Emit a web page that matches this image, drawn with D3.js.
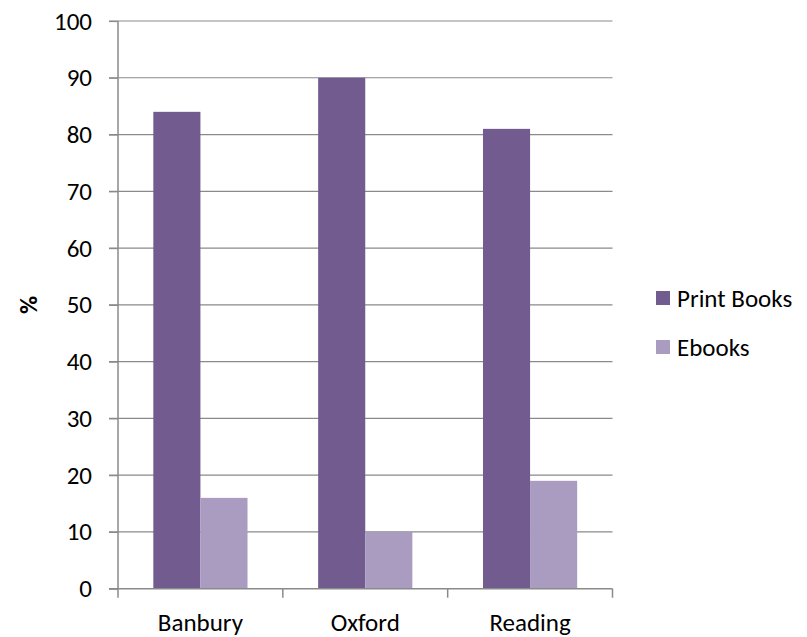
<!DOCTYPE html>
<html><head><meta charset="utf-8">
<script src="https://cdn.jsdelivr.net/npm/d3@7"></script>
<style>body{margin:0;background:#fff}svg{display:block}text{font-family:Carlito,Lato,sans-serif;fill:#000}</style>
</head><body><svg id="c" width="807" height="637"></svg>
<script>
const categories = ["Banbury","Oxford","Reading"];
const seriesNames = ["Print Books","Ebooks"];
const printBooks = [84,90,81];
const ebooks = [16,10,19];
const yTicks = [0,10,20,30,40,50,60,70,80,90,100];
const colors = ["#715B8F","#AA9BC1"];

const svg = d3.select("#c");
const L=118, R=612.5, T=21, B=588.7;
const FS=25;
const x = d3.scaleBand().domain(categories).range([L,R]).paddingInner(0).paddingOuter(0);
const y = d3.scaleLinear().domain([0,100]).range([B,T]);
const bw = x.bandwidth()/3.5;
const x1 = d3.scaleBand().domain(seriesNames).range([bw*0.75, bw*2.75]);

// gridlines
svg.append("g").selectAll("line").data(yTicks.filter(d=>d>0)).join("line")
  .attr("x1",L-9).attr("x2",R).attr("y1",d=>y(d)).attr("y2",d=>y(d))
  .attr("stroke","#8a8a8a").attr("stroke-width",1.2);

// bars
const data = categories.map((c,i)=>({c, vals:[printBooks[i],ebooks[i]]}));
const g = svg.append("g");
data.forEach(d=>{
  d.vals.forEach((v,j)=>{
    g.append("rect").attr("x",x(d.c)+x1(seriesNames[j])).attr("width",x1.bandwidth())
      .attr("y",y(v)).attr("height",y(0)-y(v)).attr("fill",colors[j]);
  });
});

// y axis
const ya = svg.append("g").attr("transform",`translate(${L},0)`)
  .call(d3.axisLeft(y).tickValues(yTicks).tickSize(9).tickPadding(17));
ya.select(".domain").attr("stroke","#8a8a8a").attr("stroke-width",1.5).attr("d",`M0,${T}V${B}`);
ya.selectAll(".tick line").attr("stroke","#8a8a8a").attr("stroke-width",1.2);
ya.selectAll(".tick text").attr("font-size",FS).attr("font-family","Carlito,Lato,sans-serif").attr("fill","#000");

// x axis
const xa = svg.append("g").attr("transform",`translate(0,${B})`)
  .call(d3.axisBottom(x).tickSize(0).tickPadding(25));
xa.select(".domain").attr("stroke","#8a8a8a").attr("stroke-width",1.5).attr("d",`M${L-9},0H${R}`);
xa.selectAll(".tick text").attr("font-size",FS).attr("font-family","Carlito,Lato,sans-serif").attr("fill","#000");
// category boundary ticks
const bounds = categories.map(c=>x(c)).concat([R]);
svg.append("g").selectAll("line").data(bounds).join("line")
  .attr("x1",d=>d).attr("x2",d=>d).attr("y1",B).attr("y2",B+9)
  .attr("stroke","#8a8a8a").attr("stroke-width",1.5);

// y title
svg.append("text").attr("transform","translate(37,305) rotate(-90)")
  .attr("text-anchor","middle").attr("font-size",FS).attr("font-weight","bold").text("%");

// legend
const lg = svg.append("g").selectAll("g").data(seriesNames).join("g")
  .attr("transform",(d,i)=>`translate(656,${291+i*49})`);
lg.append("rect").attr("width",14).attr("height",14).attr("fill",(d,i)=>colors[i]);
lg.append("text").attr("x",21).attr("y",7).attr("dy","0.35em").attr("font-size",FS).text(d=>d);
</script></body></html>
